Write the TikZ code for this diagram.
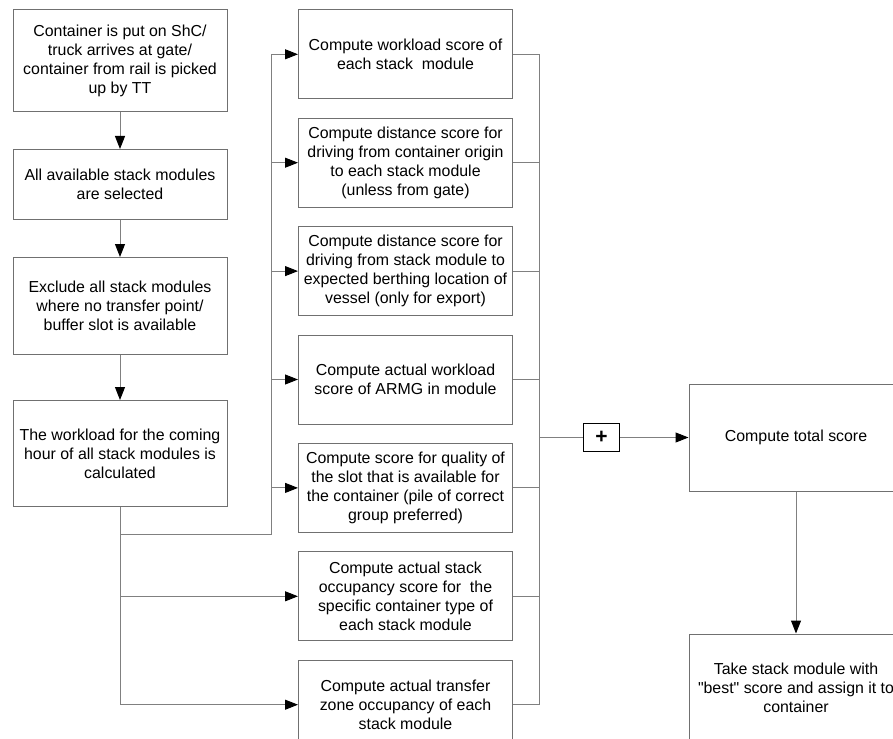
\documentclass[tikz,border=0pt]{standalone}
\usepackage{fontspec}
\setmainfont{Liberation Sans}
\usetikzlibrary{arrows.meta, positioning}
\definecolor{line-gray}{RGB}{128,128,128}
\definecolor{box-gray}{RGB}{112,112,112}

\begin{document}
\begin{tikzpicture}[
    x=1pt, y=1pt,
    node distance=37pt,
    every node/.style={font=\fontsize{15.9}{19}\selectfont},
    stepbox/.style={rectangle, draw=box-gray, line width=1pt, fill=white,
                    minimum width=214pt, align=center, inner sep=2pt},
    scorebox/.style={stepbox, minimum height=89pt},
    sumbox/.style={rectangle, draw=black, line width=1.4pt, fill=white,
                   minimum width=36pt, minimum height=28pt, inner sep=0pt,
                   font=\fontsize{21}{21}\selectfont\bfseries},
    link/.style={draw=line-gray, line width=1pt},
    flow/.style={link, -{Triangle[length=13pt, width=10pt, color=black]}},
  ]
  \clip (0,0) rectangle (893,-738);

  % left column
  \node[stepbox, minimum height=102pt, anchor=north] (load) at (120,-9)
    {Container is put on ShC/\\truck arrives at gate/\\container from rail is picked\\up by TT};
  \node[stepbox, minimum height=70pt, below=of load] (avail)
    {All available stack modules\\are selected};
  \node[stepbox, minimum height=97pt, below=of avail] (excl)
    {Exclude all stack modules\\where no transfer point/\\buffer slot is available};
  \node[stepbox, minimum height=106pt, below=45pt of excl] (hour)
    {The workload for the coming\\hour of all stack modules is\\calculated};

  % score modules
  \node[scorebox, anchor=north west] (s1) at (298,-9.3)
    {Compute workload score of\\each stack\ \ module};
  \node[scorebox, below=18.4pt of s1] (s2)
    {Compute distance score for\\driving from container origin\\to each stack module\\(unless from gate)};
  \node[scorebox, below=18.4pt of s2] (s3)
    {Compute distance score for\\driving from stack module to\\expected berthing location of\\vessel (only for export)};
  \node[scorebox, below=18.4pt of s3] (s4)
    {Compute actual workload\\score of ARMG in module};
  \node[scorebox, below=18.4pt of s4] (s5)
    {Compute score for quality of\\the slot that is available for\\the container (pile of correct\\group preferred)};
  \node[scorebox, below=18.4pt of s5] (s6)
    {Compute actual stack\\occupancy score for\ \ the\\specific container type of\\each stack module};
  \node[scorebox, below=18.4pt of s6] (s7)
    {Compute actual transfer\\zone occupancy of each\\stack module};

  % result
  \node[stepbox, minimum height=107pt] (total) at (796,-437.5) {Compute total score};
  \node[stepbox, minimum height=107pt, below=142pt of total] (best)
    {Take stack module with\\\textquotedbl best\textquotedbl\ score and assign it to\\container};

  \draw[flow] (load) -- (avail);
  \draw[flow] (avail) -- (excl);
  \draw[flow] (excl) -- (hour);

  % fan out to the scores
  \coordinate (fork) at ([yshift=-27pt]hour.south);
  \coordinate (lbus) at ([xshift=-27pt]s1.west);
  \draw[link] (hour.south) -- (fork) -| (lbus);
  \foreach \i in {1,...,5}
    \draw[flow] (lbus |- s\i.west) -- (s\i.west);
  \foreach \i in {6,7}
    \draw[flow] (fork) |- (s\i.west);

  % collect the scores
  \coordinate (rbus) at ([xshift=26pt]s1.east);
  \foreach \i in {1,...,7}
    \draw[link] (s\i.east) -- (rbus |- s\i.east);
  \draw[link] (rbus) -- (rbus |- s7.east);
  \path (rbus |- total.west) ++(62.5,0) node[sumbox] (plus) {+};
  \draw[link] (rbus |- total.west) -- (plus.west);
  \draw[flow] (plus.east) -- (total.west);
  \draw[flow] (total) -- (best);
\end{tikzpicture}
\end{document}
